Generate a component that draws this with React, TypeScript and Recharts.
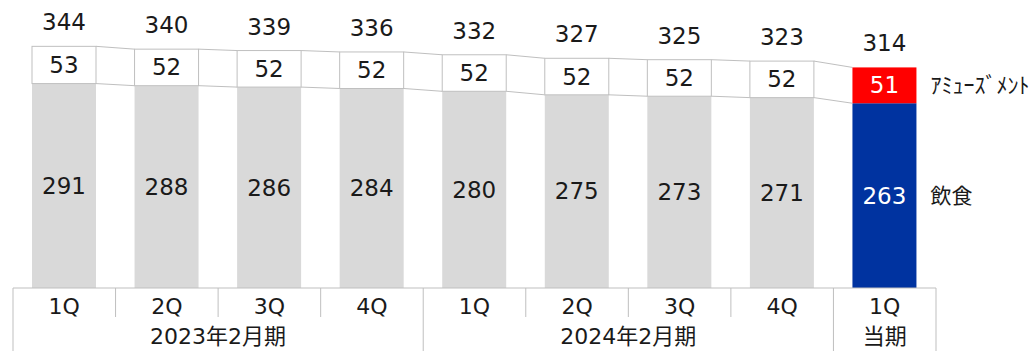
import { Bar, BarChart, LabelList, XAxis, YAxis } from "recharts";

const quarters = ["1Q", "2Q", "3Q", "4Q", "1Q", "2Q", "3Q", "4Q", "1Q"];
const periodLabels = ["2023年2月期", "2024年2月期", "当期"];
const periodSizes = [4, 4, 1];
const food = [291, 288, 286, 284, 280, 275, 273, 271, 263];
const amusement = [53, 52, 52, 52, 52, 52, 52, 52, 51];
const totals = [344, 340, 339, 336, 332, 327, 325, 323, 314];

const data = quarters.map((q, i) => ({
  key: `${q}-${i}`,
  food: food[i],
  amusement: amusement[i],
  total: totals[i],
}));

const W = 1031;
const H = 351;
const M = { top: 7, right: 95, left: 13, bottom: 0 };
const PLOT_W = W - M.left - M.right;
const BAND = PLOT_W / data.length;
const LAST = data.length - 1;
const FONT = '"DejaVu Sans", "Noto Sans CJK JP", sans-serif';
const LINE = "#bfbfbf";
const TEXT = "#1a1a1a";

const groupStarts = periodSizes.map((_, g) =>
  periodSizes.slice(0, g).reduce((a, b) => a + b, 0)
);

function FoodShape(props: any) {
  const { x, y, width, height, index } = props;
  const fill = index === LAST ? "#0033a0" : "#d9d9d9";
  return <rect x={x} y={y} width={width} height={height} fill={fill} />;
}

function AmusementShape(props: any) {
  const { x, y, width, height, index } = props;
  const last = index === LAST;
  const ppu = height / amusement[index];
  const boundary = y + height;
  const base = boundary + food[index] * ppu;
  let connector = null;
  if (index < LAST) {
    const nx = x + BAND;
    const nTop = base - (food[index + 1] + amusement[index + 1]) * ppu;
    const nBoundary = base - food[index + 1] * ppu;
    connector = (
      <g stroke={LINE} strokeWidth={1}>
        <line x1={x + width} y1={y} x2={nx} y2={nTop} />
        <line x1={x + width} y1={boundary} x2={nx} y2={nBoundary} />
      </g>
    );
  }
  return (
    <g>
      <rect
        x={x}
        y={y}
        width={width}
        height={height}
        fill={last ? "#ff0000" : "#ffffff"}
        stroke={last ? "none" : LINE}
        strokeWidth={1}
      />
      {connector}
    </g>
  );
}

function InnerLabel(props: any) {
  const { x, y, width, height, value, index } = props;
  return (
    <text
      x={x + width / 2}
      y={y + height / 2}
      textAnchor="middle"
      dominantBaseline="central"
      fontSize={23}
      fontFamily={FONT}
      fill={index === LAST ? "#ffffff" : TEXT}
    >
      {value}
    </text>
  );
}

function TotalLabel(props: any) {
  const { x, y, width, value } = props;
  return (
    <text
      x={x + width / 2}
      y={y - 24}
      textAnchor="middle"
      dominantBaseline="central"
      fontSize={23}
      fontFamily={FONT}
      fill={TEXT}
    >
      {value}
    </text>
  );
}

function sideLabel(name: string, size: number) {
  return (props: any) => {
    const { x, y, width, height, index } = props;
    if (index !== LAST) return null;
    return (
      <text
        x={x + width + 14}
        y={y + height / 2}
        dominantBaseline="central"
        fontSize={size}
        fontFamily={FONT}
        fill={TEXT}
      >
        {name}
      </text>
    );
  };
}

function QuarterTick(props: any) {
  const { x, y, payload, index } = props;
  const left = x - BAND / 2;
  const g = groupStarts.indexOf(index);
  return (
    <g>
      <line x1={left} y1={y} x2={left} y2={y + (g >= 0 ? 63 : 29)} stroke={LINE} />
      {index === LAST && (
        <line x1={left + BAND} y1={y} x2={left + BAND} y2={y + 63} stroke={LINE} />
      )}
      <text
        x={x}
        y={y + 18}
        textAnchor="middle"
        dominantBaseline="central"
        fontSize={22}
        fontFamily={FONT}
        fill={TEXT}
      >
        {quarters[index] ?? payload.value}
      </text>
      {g >= 0 && (
        <text
          x={left + (periodSizes[g] * BAND) / 2}
          y={y + 48}
          textAnchor="middle"
          dominantBaseline="central"
          fontSize={22}
          fontFamily={FONT}
          fill={TEXT}
        >
          {periodLabels[g]}
        </text>
      )}
    </g>
  );
}

export default function App() {
  return (
    <div
      style={{
        position: "absolute",
        left: 0,
        top: 0,
        width: W,
        height: H,
        background: "#fff",
      }}
    >
      <BarChart width={W} height={H} data={data} margin={M} barSize={64}>
        <XAxis
          dataKey="key"
          height={63}
          interval={0}
          tickLine={false}
          tickSize={0}
          tickMargin={0}
          axisLine={{ stroke: LINE }}
          tick={<QuarterTick />}
        />
        <YAxis hide domain={[0, 400]} />
        <Bar dataKey="food" stackId="a" shape={<FoodShape />} isAnimationActive={false}>
          <LabelList dataKey="food" content={<InnerLabel />} />
          <LabelList dataKey="food" content={sideLabel("飲食", 21)} />
        </Bar>
        <Bar
          dataKey="amusement"
          stackId="a"
          shape={<AmusementShape />}
          isAnimationActive={false}
        >
          <LabelList dataKey="amusement" content={<InnerLabel />} />
          <LabelList dataKey="total" content={<TotalLabel />} />
          <LabelList dataKey="amusement" content={sideLabel("ｱﾐｭｰｽﾞﾒﾝﾄ", 22)} />
        </Bar>
      </BarChart>
    </div>
  );
}
